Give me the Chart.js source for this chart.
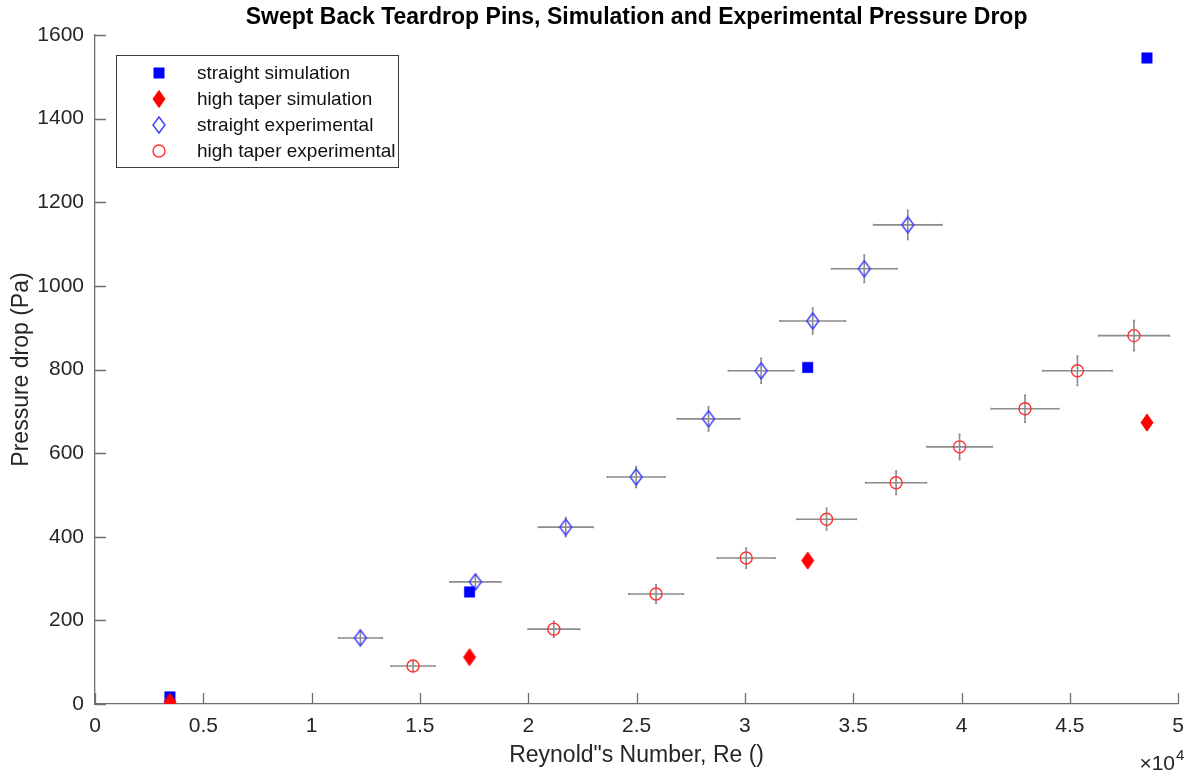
<!DOCTYPE html>
<html lang="en">
<head>
<meta charset="UTF-8">
<title>Swept Back Teardrop Pins</title>
<script src="https://cdn.jsdelivr.net/npm/chart.js"></script>
<style>
  html, body { margin: 0; padding: 0; background: #fff; }
  #wrap { width: 1194px; height: 771px; }
</style>
</head>
<body>
<div id="wrap"><canvas id="dpChart" width="1194" height="771"></canvas></div>
<script>
// simulation runs (same Re for both pin shapes)
const simRe = [3460, 17290, 32900, 48560];
const straightSim = [17, 268, 805, 1545];
const taperSim = [5, 112, 343, 673];

// experimental runs with uncertainty in Re and pressure drop
const straightExpRe = [12250, 17560, 21730, 24980, 28320, 30750, 33130, 35510, 37520];
const straightExpDp = [158, 292, 423, 543, 682, 797, 916, 1041, 1146];
const straightExpReErr = [1010, 1170, 1260, 1330, 1440, 1510, 1510, 1510, 1580];
const straightExpDpErr = [14, 17, 23, 25, 29, 30, 31, 33, 35];

const taperExpRe = [14680, 21180, 25900, 30060, 33770, 36980, 39910, 42930, 45350, 47960];
const taperExpDp = [91, 179, 263, 349, 442, 529, 615, 706, 797, 881];
const taperExpReErr = [1010, 1190, 1260, 1330, 1370, 1400, 1510, 1560, 1600, 1630];
const taperExpDpErr = [12, 19, 22, 24, 26, 28, 30, 32, 35, 36];

const xTicks = [0, 0.5, 1, 1.5, 2, 2.5, 3, 3.5, 4, 4.5, 5];   // x 10^4
const yTicks = [0, 200, 400, 600, 800, 1000, 1200, 1400, 1600];

const seriesNames = ['straight simulation', 'high taper simulation', 'straight experimental', 'high taper experimental'];

const FONT = 'Liberation Sans, Arial, Helvetica, sans-serif';
const AXIS_COLOR = '#6f6f6f';
const TEXT_COLOR = '#262626';
const ERR_COLOR = '#8c8c8c';

function pts(xs, ys) {
    return xs.map((x, i) => ({ x: x, y: ys[i] }));
}

// matlab style diamonds are taller than wide, so build them as little canvases
function makeDiamond(w, h, fill, stroke, lw) {
    var c = document.createElement('canvas');
    c.width = w + 4;
    c.height = h + 4;
    var g = c.getContext('2d');
    var cx = c.width / 2, cy = c.height / 2;
    g.beginPath();
    g.moveTo(cx, cy - h / 2);
    g.lineTo(cx + w / 2, cy);
    g.lineTo(cx, cy + h / 2);
    g.lineTo(cx - w / 2, cy);
    g.closePath();
    if (fill) { g.fillStyle = fill; g.fill(); }
    if (stroke) { g.strokeStyle = stroke; g.lineWidth = lw; g.stroke(); }
    return c;
}

var redDiamond = makeDiamond(12, 17, '#ff0000', '#ff0000', 1);
var blueDiamond = makeDiamond(12, 16, null, '#3a3aff', 1.4);

var errors = {
    2: { ex: straightExpReErr, ey: straightExpDpErr },
    3: { ex: taperExpReErr, ey: taperExpDpErr }
};

// grey error bars in both directions, tiny caps at the ends
var errorBars = {
    id: 'errorBars',
    beforeDatasetsDraw: function(chart) {
        var ctx = chart.ctx;
        var xs = chart.scales.x, ys = chart.scales.y;
        ctx.save();
        ctx.strokeStyle = ERR_COLOR;
        ctx.lineWidth = 1.6;
        Object.keys(errors).forEach(function(idx) {
            var ds = chart.data.datasets[idx];
            var e = errors[idx];
            ds.data.forEach(function(p, i) {
                var px = xs.getPixelForValue(p.x);
                var py = ys.getPixelForValue(p.y);
                var x0 = xs.getPixelForValue(p.x - e.ex[i]);
                var x1 = xs.getPixelForValue(p.x + e.ex[i]);
                var y0 = ys.getPixelForValue(p.y - e.ey[i]);
                var y1 = ys.getPixelForValue(p.y + e.ey[i]);
                ctx.beginPath();
                ctx.moveTo(x0, py); ctx.lineTo(x1, py);
                ctx.moveTo(x0, py - 1); ctx.lineTo(x0, py + 1);
                ctx.moveTo(x1, py - 1); ctx.lineTo(x1, py + 1);
                ctx.moveTo(px, y0); ctx.lineTo(px, y1);
                ctx.moveTo(px - 1, y0); ctx.lineTo(px + 1, y0);
                ctx.moveTo(px - 1, y1); ctx.lineTo(px + 1, y1);
                ctx.stroke();
            });
        });
        ctx.restore();
    }
};

// inward tick marks, exponent label and the boxed legend
var axisExtras = {
    id: 'axisExtras',
    afterDraw: function(chart) {
        var ctx = chart.ctx;
        var xs = chart.scales.x, ys = chart.scales.y;
        var a = chart.chartArea;
        ctx.save();
        ctx.strokeStyle = AXIS_COLOR;
        ctx.lineWidth = 1.3;
        ctx.beginPath();
        xs.ticks.forEach(function(t) {
            var px = Math.round(xs.getPixelForValue(t.value)) + 0.5;
            ctx.moveTo(px, a.bottom);
            ctx.lineTo(px, a.bottom - 11);
        });
        ys.ticks.forEach(function(t) {
            var py = Math.round(ys.getPixelForValue(t.value)) + 0.5;
            ctx.moveTo(a.left, py);
            ctx.lineTo(a.left + 11, py);
        });
        ctx.stroke();

        // x 10^4 multiplier
        ctx.fillStyle = TEXT_COLOR;
        ctx.textBaseline = 'alphabetic';
        ctx.textAlign = 'right';
        ctx.font = '21px ' + FONT;
        ctx.fillText('\u00d710', 1175, 770);
        ctx.textAlign = 'left';
        ctx.font = '15px ' + FONT;
        ctx.fillText('4', 1176, 760);

        // legend
        var lx = 116.5, ly = 55.5, lw = 282, lh = 112;
        ctx.fillStyle = '#ffffff';
        ctx.fillRect(lx, ly, lw, lh);
        ctx.strokeStyle = '#3c3c3c';
        ctx.lineWidth = 1;
        ctx.strokeRect(lx, ly, lw, lh);
        ctx.font = '19px ' + FONT;
        ctx.textBaseline = 'middle';
        ctx.textAlign = 'left';
        chart.data.datasets.forEach(function(ds, i) {
            var my = 73 + i * 26;
            var mx = 159;
            ctx.save();
            if (typeof ds.pointStyle === 'object') {
                var img = ds.pointStyle;
                ctx.drawImage(img, mx - img.width / 2, my - img.height / 2);
            } else {
                ctx.fillStyle = ds.pointBackgroundColor;
                ctx.strokeStyle = ds.pointBorderColor;
                ctx.lineWidth = ds.pointBorderWidth;
                Chart.helpers.drawPoint(ctx, {
                    pointStyle: ds.pointStyle,
                    radius: ds.pointRadius,
                    borderWidth: ds.pointBorderWidth,
                    rotation: 0
                }, mx, my);
            }
            ctx.restore();
            ctx.fillStyle = '#111';
            ctx.fillText(ds.label, 197, my + 1);
        });
        ctx.restore();
    }
};

var ctx = document.getElementById('dpChart').getContext('2d');
var dpChart = new Chart(ctx, {
    type: 'scatter',
    data: {
        datasets: [{
            label: seriesNames[0],
            data: pts(simRe, straightSim),
            pointStyle: 'rect',
            pointRadius: 7.4,
            pointBackgroundColor: '#0000ff',
            pointBorderColor: '#0000ff',
            pointBorderWidth: 0.5,
            order: 1
        }, {
            label: seriesNames[1],
            data: pts(simRe, taperSim),
            pointStyle: redDiamond,
            order: 0
        }, {
            label: seriesNames[2],
            data: pts(straightExpRe, straightExpDp),
            pointStyle: blueDiamond,
            order: 2
        }, {
            label: seriesNames[3],
            data: pts(taperExpRe, taperExpDp),
            pointStyle: 'circle',
            pointRadius: 6,
            pointBackgroundColor: 'rgba(0,0,0,0)',
            pointBorderColor: '#ff3030',
            pointBorderWidth: 1.4,
            order: 3
        }]
    },
    options: {
        responsive: false,
        animation: false,
        events: [],
        layout: { padding: { left: 0, right: 7, top: 0, bottom: 0 } },
        plugins: {
            legend: { display: false },
            tooltip: { enabled: false },
            title: {
                display: true,
                fullSize: false,
                text: 'Swept Back Teardrop Pins, Simulation and Experimental Pressure Drop',
                color: '#000',
                font: { family: FONT, size: 23, weight: 'bold' },
                padding: { top: 3.5, bottom: 3.9 }
            }
        },
        scales: {
            x: {
                type: 'linear',
                min: 0,
                max: 50000,
                afterBuildTicks: function(s) {
                    s.ticks = xTicks.map(v => ({ value: v * 10000 }));
                },
                ticks: {
                    callback: v => String(v / 10000),
                    color: TEXT_COLOR,
                    font: { family: FONT, size: 21 },
                    padding: 10,
                    maxRotation: 0,
                    autoSkip: false
                },
                grid: { display: false, drawTicks: false },
                border: { display: true, color: AXIS_COLOR, width: 1.3 },
                title: {
                    display: true,
                    text: 'Reynold"s Number, Re ()',
                    color: TEXT_COLOR,
                    font: { family: FONT, size: 23 },
                    padding: { top: 0, bottom: 2 }
                },
                afterFit: function(s) { s.height = 67; }
            },
            y: {
                type: 'linear',
                min: 0,
                max: 1600,
                afterBuildTicks: function(s) {
                    s.ticks = yTicks.map(v => ({ value: v }));
                },
                ticks: {
                    callback: v => String(v),
                    color: TEXT_COLOR,
                    font: { family: FONT, size: 21 },
                    padding: 11,
                    autoSkip: false
                },
                grid: { display: false, drawTicks: false },
                border: { display: true, color: AXIS_COLOR, width: 1.3 },
                title: {
                    display: true,
                    text: 'Pressure drop (Pa)',
                    color: TEXT_COLOR,
                    font: { family: FONT, size: 23 },
                    padding: { top: 8, bottom: 0 }
                },
                afterFit: function(s) { s.width = 95; }
            }
        }
    },
    plugins: [errorBars, axisExtras]
});
</script>
</body>
</html>
